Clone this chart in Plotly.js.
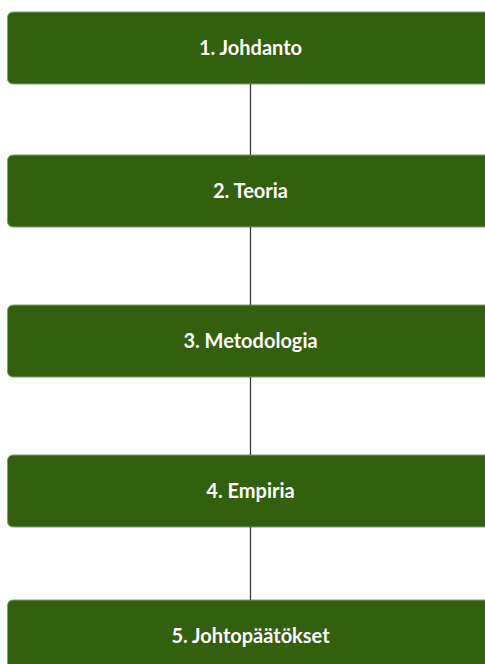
<!DOCTYPE html>
<html>
<head>
<meta charset="utf-8">
<script src="https://cdn.plot.ly/plotly-3.0.1.min.js"></script>
<style>html,body{margin:0;padding:0;background:#fff;}#chart{width:485px;height:664px;}</style>
</head>
<body>
<div id="chart"></div>
<script>
// Data
const steps = ["1. Johdanto", "2. Teoria", "3. Metodologia", "4. Empiria", "5. Johtopäätökset"];

// Layout constants (pixel-like coordinate system)
const W = 485, H = 664;
const boxLeft = 7.5, boxRight = 493, boxH = 72, radius = 6;
const boxTops = [12, 155, 305, 455, 600];
const centerX = 250.5;
const textOffset = 1.5;

function roundedRect(x0, y0, x1, y1, r) {
  return `M${x0 + r},${y0} L${x1 - r},${y0} Q${x1},${y0} ${x1},${y0 + r} L${x1},${y1 - r} Q${x1},${y1} ${x1 - r},${y1} ` +
         `L${x0 + r},${y1} Q${x0},${y1} ${x0},${y1 - r} L${x0},${y0 + r} Q${x0},${y0} ${x0 + r},${y0} Z`;
}

const tops = steps.map((_, i) => boxTops[i]);
const shapes = tops.map(t => ({
  type: "path", xref: "x", yref: "y",
  path: roundedRect(boxLeft, t, boxRight, t + boxH, radius),
  fillcolor: "#33600f",
  line: { color: "#7f9f6a", width: 1 },
  layer: "below"
}));

// connectors
const cx = [], cy = [];
for (let i = 0; i < steps.length - 1; i++) {
  cx.push(centerX, centerX, null);
  cy.push(tops[i] + boxH, tops[i + 1], null);
}

const traces = [
  {
    type: "scatter", mode: "lines", x: cx, y: cy,
    line: { color: "#3a3a3a", width: 1.3 }, hoverinfo: "skip", showlegend: false
  },
  {
    type: "scatter", mode: "text",
    x: steps.map(() => centerX), y: tops.map(t => t + boxH / 2 + textOffset),
    text: steps.map(s => "<b>" + s + "</b>"),
    textposition: "middle center",
    textfont: { family: "Lato, Open Sans, sans-serif", size: 20, color: "#ffffff" },
    hoverinfo: "skip", showlegend: false, cliponaxis: false
  }
];

const layout = {
  width: W, height: H,
  margin: { l: 0, r: 0, t: 0, b: 0 },
  paper_bgcolor: "#ffffff", plot_bgcolor: "#ffffff",
  xaxis: { range: [0, W], visible: false, fixedrange: true },
  yaxis: { range: [H, 0], visible: false, fixedrange: true },
  shapes: shapes,
  showlegend: false
};

Plotly.newPlot("chart", traces, layout, { staticPlot: true, displayModeBar: false });
</script>
</body>
</html>
